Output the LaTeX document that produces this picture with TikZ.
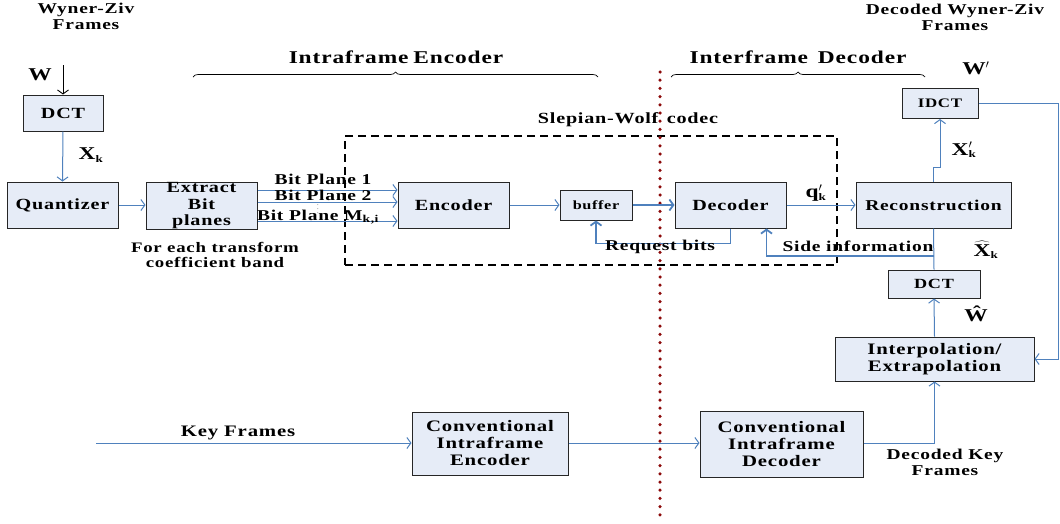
\documentclass[tikz,border=0pt]{standalone}
\usepackage{fontspec}
\setmainfont[FakeStretch=1.3,LetterSpace=5]{Liberation Serif}
\usetikzlibrary{arrows.meta,decorations.pathreplacing}
\definecolor{boxfill}{RGB}{230,236,247}
\definecolor{lineblue}{RGB}{79,129,189}
\definecolor{dotred}{RGB}{140,10,10}
\newcommand{\subk}{\textsubscript{\fontsize{10}{10}\selectfont k}}
\begin{document}
\begin{tikzpicture}[x=1pt,y=-1pt,
  blk/.style={draw=black!85, fill=boxfill, line width=1pt, inner sep=0pt, align=center,
    font=\bfseries\fontsize{15.5}{16.5}\selectfont},
  lbl/.style={inner sep=0pt, align=center, font=\bfseries\fontsize{15}{16}\selectfont},
  mlbl/.style={inner sep=0pt, font=\bfseries\fontsize{18}{18}\selectfont},
  flow/.style={draw=lineblue, line width=1pt, -{Straight Barb[length=4pt,width=11pt]}},
  fatflow/.style={flow, line width=1.8pt},
  link/.style={draw=lineblue, line width=1pt}]
  \useasboundingbox (0,0) rectangle (1060,523);

  %% encoder side
  \node[blk, minimum width=80, minimum height=36] (dct) at (63,113) {DCT};
  \node[blk, minimum width=111, minimum height=46] (quant) at (62.5,205) {Quantizer};
  \node[blk, minimum width=111, minimum height=46, font=\bfseries\fontsize{15.5}{16.5}\selectfont] (ext) at (201.5,206) {Extract\\Bit\\planes};
  \node[blk, minimum width=111, minimum height=46] (enc) at (453.5,205) {Encoder};
  \node[blk, minimum width=72, minimum height=30, font=\bfseries\fontsize{12.5}{13}\selectfont] (buf) at (596,205) {buffer};

  %% decoder side
  \node[blk, minimum width=111, minimum height=46] (dec) at (730.5,205) {Decoder};
  \node[blk, minimum width=155, minimum height=46, font=\bfseries\fontsize{15}{16}\selectfont] (rec) at (933.5,205) {Reconstruction};
  \node[blk, minimum width=76, minimum height=30, font=\bfseries\fontsize{13}{14}\selectfont] (idct) at (940,103.5) {IDCT};
  \node[blk, minimum width=92, minimum height=28, font=\bfseries\fontsize{14}{15}\selectfont] (dct2) at (934,284) {DCT};
  \node[blk, minimum width=199, minimum height=44, font=\bfseries\fontsize{16}{17}\selectfont] (interp) at (934.5,359) {Interpolation/\\Extrapolation};

  %% key frames
  \node[blk, minimum width=156, minimum height=63, font=\bfseries\fontsize{16}{17}\selectfont] (cenc) at (490,443.5) {Conventional\\Intraframe\\Encoder};
  \node[blk, minimum width=163, minimum height=66, font=\bfseries\fontsize{16}{17}\selectfont] (cdec) at (781.5,444) {Conventional\\Intraframe\\Decoder};

  %% Slepian-Wolf codec
  \node[draw, dashed, line width=1.6pt, dash pattern=on 8pt off 5pt, minimum width=492, minimum height=129, inner sep=0pt] (sw) at (591,200.5) {};
  \node[lbl, font=\bfseries\fontsize{15.5}{16}\selectfont] (swl) at (628,120) {Slepian-Wolf\, codec};

  %% split line
  \coordinate (ctop) at (660,72);
  \coordinate (cbot) at (660,520);
  \draw[dotred, line width=3.5pt, line cap=round, dash pattern=on 0pt off 8.2pt] (ctop) -- (cbot);

  %% braces
  \coordinate (b1l) at (193,77);
  \coordinate (b1r) at (598,77);
  \coordinate (b2l) at (671,77);
  \coordinate (b2r) at (925,77);
  \draw[decorate, decoration={brace, amplitude=5pt}, line width=0.7pt] (b1l) -- (b1r);
  \draw[decorate, decoration={brace, amplitude=5pt}, line width=0.7pt] (b2l) -- (b2r);
  \node[lbl, font=\bfseries\fontsize{18}{18}\selectfont] (intra) at (396,57) {Intraframe\kern-2pt\ Encoder};
  \node[lbl, font=\bfseries\fontsize{18}{18}\selectfont] (inter) at (798,57) {Interframe\, Decoder};

  %% titles
  \node[lbl, font=\bfseries\fontsize{15}{16}\selectfont] (wzf) at (86,16) {Wyner-Ziv\\Frames};
  \node[lbl, font=\bfseries\fontsize{15}{16}\selectfont] (dwzf) at (955,17) {Decoded Wyner-Ziv\\Frames};
  \node[mlbl] (wlab) at (40,75) {W};
  \node[mlbl] (wplab) at (974,68) {W\rlap{$'$}};

  %% connectors
  \coordinate (win) at (63,65);
  \draw[line width=0.9pt, -{Straight Barb[length=4pt,width=11pt]}] (win) -- (dct.north);
  \draw[flow] (dct.south) -- (quant.north);
  \node[mlbl] (xlab) at (91,155) {X\subk};
  \draw[flow] (quant.east) -- (quant.east -| ext.west);
  \draw[flow] ([yshift=15pt]ext.east |- quant.east) -- ([yshift=15pt]enc.west);
  \draw[flow] ([yshift=3pt]ext.east |- quant.east) -- ([yshift=3pt]enc.west);
  \draw[flow] ([yshift=-16pt]ext.east |- quant.east) -- ([yshift=-16pt]enc.west);
  \node[lbl] (bp1) at (323,179) {Bit Plane 1};
  \node[lbl] (bp2) at (323,195) {Bit Plane 2};
  \node[lbl] (bpm) at (318,217) {Bit Plane M\textsubscript{k,i}};
  \node[lbl, font=\tiny] (bpdots) at (318,206) {$\vdots$};
  \node[lbl, font=\bfseries\fontsize{14.5}{15}\selectfont] (band) at (215,255) {For each transform\\coefficient band};

  \draw[flow] (enc.east) -- (buf.west);
  \draw[fatflow] (buf.east) -- (dec.west);
  \draw[fatflow] (dec.south) -- ++(0,15) -| (buf.south);
  \node[lbl] (req) at (660,247) {Request bits};
  \draw[flow] (dec.east) -- (rec.west);
  \node[mlbl] (qlab) at (816,193) {q\rlap{$'$}\subk};

  \draw[flow] (rec.north) -- ++(0,-14) -| (idct.south);
  \node[mlbl] (xplab) at (964,150) {X\rlap{$'$}\subk};
  \draw[flow] (idct.east) -- ++(80,0) |- (interp.east);

  \draw[link] (dct2.north) -- (rec.south);
  \coordinate (si) at (934,256);
  \draw[fatflow] (si) -| ([xshift=-20pt]dec.south east);
  \node[lbl] (sil) at (858,246) {Side information};
  \node[mlbl] (xhlab) at (986,250) {$\widehat{\hbox{X}}$\subk};

  \draw[flow] (interp.north) -- (dct2.south);
  \node[mlbl] (whlab) at (976,314) {Ŵ};

  \coordinate (kin) at (96,443);
  \draw[flow] (kin) -- (kin -| cenc.west);
  \node[lbl, font=\bfseries\fontsize{16}{16}\selectfont] (kf) at (238,433) {Key Frames};
  \draw[flow] (cenc.east |- kin) -- (cdec.west |- kin);
  \draw[flow] (cdec.east |- kin) -| (interp.south);
  \node[lbl, font=\bfseries\fontsize{15}{16}\selectfont] (dkf) at (945,462) {Decoded Key\\Frames};
\end{tikzpicture}
\end{document}
